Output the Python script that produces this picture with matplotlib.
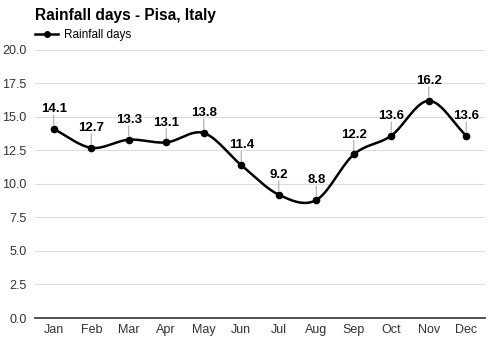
import numpy as np
import matplotlib
matplotlib.use("Agg")
import matplotlib.pyplot as plt
from matplotlib.lines import Line2D

plt.rcParams['font.family'] = ['Liberation Sans', 'DejaVu Sans']

months = ['Jan', 'Feb', 'Mar', 'Apr', 'May', 'Jun', 'Jul', 'Aug', 'Sep', 'Oct', 'Nov', 'Dec']
rain_days = [14.1, 12.7, 13.3, 13.1, 13.8, 11.4, 9.2, 8.8, 12.2, 13.6, 16.2, 13.6]
yticks = [0, 2.5, 5, 7.5, 10, 12.5, 15, 17.5, 20]


def catmull_rom(x, y, n=30):
    # simple smooth curve through the points
    x = np.asarray(x, float)
    y = np.asarray(y, float)
    px = np.concatenate([[2 * x[0] - x[1]], x, [2 * x[-1] - x[-2]]])
    py = np.concatenate([[2 * y[0] - y[1]], y, [2 * y[-1] - y[-2]]])
    xs, ys = [], []
    for i in range(1, len(px) - 2):
        t = np.linspace(0, 1, n)
        for p, out in ((px, xs), (py, ys)):
            p0, p1, p2, p3 = p[i - 1], p[i], p[i + 1], p[i + 2]
            out.append(0.5 * ((2 * p1) + (-p0 + p2) * t
                              + (2 * p0 - 5 * p1 + 4 * p2 - p3) * t ** 2
                              + (-p0 + 3 * p1 - 3 * p2 + p3) * t ** 3))
    return np.concatenate(xs), np.concatenate(ys)


fig = plt.figure(figsize=(5, 3.5), dpi=100)
ax = fig.add_axes([0.07, 0.0914, 0.9, 0.766])

xi = np.arange(len(months))
sx, sy = catmull_rom(xi, rain_days)
ax.plot(sx, sy, color='black', lw=1.8, zorder=3)
ax.plot(xi, rain_days, 'o', color='black', ms=4.5, zorder=4)

for x, v in zip(xi, rain_days):
    ax.annotate('', xy=(x, v), xytext=(0, 10), textcoords='offset points',
                arrowprops=dict(arrowstyle='-', color='#aaaaaa', lw=0.8,
                                shrinkA=0, shrinkB=3))
    ax.annotate(f'{v:.1f}', xy=(x, v), xytext=(0, 10), textcoords='offset points',
                ha='center', va='bottom', fontsize=9.5, fontweight='bold', zorder=5)

ax.set_xlim(-0.5, len(months) - 0.5)
ax.set_ylim(0, 20)
ax.set_xticks(xi)
ax.set_xticklabels(months)
ax.set_yticks(yticks)
ax.set_yticklabels([f'{t:.1f}' for t in yticks])
ax.tick_params(axis='x', length=0, labelsize=9, colors='#333333', pad=4)
ax.tick_params(axis='y', length=0, labelsize=9, colors='#333333', pad=6)
ax.grid(axis='y', color='#dddddd', lw=0.8)
ax.set_axisbelow(True)
for s in ['top', 'right', 'left']:
    ax.spines[s].set_visible(False)
ax.spines['bottom'].set_color('#333333')
ax.spines['bottom'].set_linewidth(1.2)

fig.text(0.07, 0.955, 'Rainfall days - Pisa, Italy', fontsize=11.2, fontweight='bold', va='center')
handle = Line2D([], [], color='black', lw=1.8, marker='o', ms=4)
fig.legend([handle], ['Rainfall days'], loc='center left', bbox_to_anchor=(0.07, 0.9),
           frameon=False, fontsize=8.5, handlelength=1.95, handletextpad=0.5,
           borderpad=0, borderaxespad=0)

fig.savefig('out.png', dpi=100)
